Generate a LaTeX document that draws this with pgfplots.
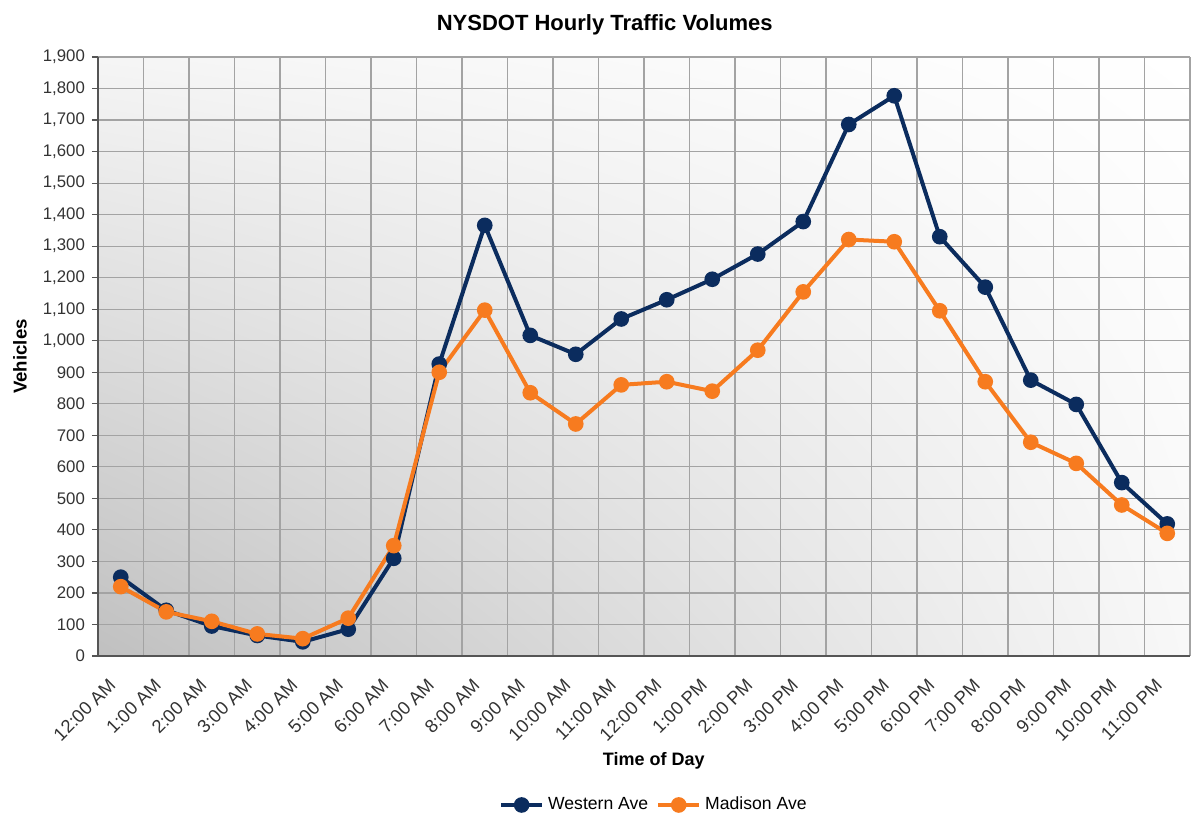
\documentclass[border=0pt]{standalone}
\usepackage{pgfplots}
\pgfplotsset{compat=1.18}
\usetikzlibrary{shadings}
\usepackage{fontspec}
\setmainfont{Liberation Sans}
\definecolor{western}{HTML}{0B2C5E}
\definecolor{madison}{HTML}{F77B1F}
\definecolor{gridc}{HTML}{A3A3A3}
\definecolor{axisc}{HTML}{555555}
\definecolor{bgll}{HTML}{C0C0C0}
\definecolor{bgul}{HTML}{F5F5F5}
\definecolor{bglr}{HTML}{F8F8F8}
\definecolor{bgur}{HTML}{FFFFFF}
\begin{document}
\begin{tikzpicture}
\path[use as bounding box] (0,0) rectangle (597pt,407pt);
\begin{axis}[
  at={(49pt,79pt)}, anchor=south west,
  width=546pt, height=299.5pt, scale only axis,
  xmin=-0.5, xmax=23.5, ymin=0, ymax=1900,
  axis lines=left,
  axis line style={-, axisc, line width=1pt},
  xtick={0,...,23},
  xticklabels={12:00 AM,1:00 AM,2:00 AM,3:00 AM,4:00 AM,5:00 AM,6:00 AM,7:00 AM,8:00 AM,9:00 AM,10:00 AM,11:00 AM,12:00 PM,1:00 PM,2:00 PM,3:00 PM,4:00 PM,5:00 PM,6:00 PM,7:00 PM,8:00 PM,9:00 PM,10:00 PM,11:00 PM},
  minor xtick={-0.5,0.5,...,23.5},
  xtick style={draw=none},
  minor tick length=4pt,
  major tick length=3pt,
  tick align=outside,
  xmajorgrids=false, xminorgrids=true, ymajorgrids=true,
  grid style={gridc, line width=0.6pt},
  minor grid style={gridc, line width=0.6pt},
  minor tick style={axisc, line width=0.6pt},
  ytick style={axisc, line width=0.6pt},
  ytick={0,100,...,1900},
  tick label style={font=\fontsize{8.4}{10}\selectfont, text=black!80},
  xticklabel style={xshift=-6.5pt, yshift=-6pt, rotate=45, anchor=north east, inner sep=1pt, font=\fontsize{9.2}{11}\selectfont},
  /pgf/number format/.cd, 1000 sep={,}, assume math mode=true, /pgfplots/.cd,
  title={NYSDOT Hourly Traffic Volumes},
  every axis title/.style={at={(axis description cs:0.464,1.0534)}, anchor=center, font=\bfseries\fontsize{11}{13}\selectfont},
  xlabel={Time of Day},
  ylabel={Vehicles},
  every axis x label/.style={at={(axis description cs:0.509,-0.1753)}, anchor=center, font=\bfseries\fontsize{9}{11}\selectfont},
  every axis y label/.style={at={(axis description cs:-0.0714,0.5)}, rotate=90, anchor=center, font=\bfseries\fontsize{9.3}{11}\selectfont},
  axis background/.style={shading=bilinear interpolation, lower left=bgll, upper left=bgul, lower right=bglr, upper right=bgur},
  legend style={at={(axis description cs:0.51,-0.2487)}, anchor=center, legend columns=2, draw=none, fill=none, font=\fontsize{8.8}{10}\selectfont, /tikz/every even column/.append style={column sep=2pt}},
  legend image code/.code={\draw[mark repeat=2, mark phase=2] plot coordinates {(0cm,0cm) (0.36cm,0cm) (0.72cm,0cm)};},
]
\addplot[western, line width=2pt, mark=*, mark size=2.9pt, mark options={solid}] coordinates {
(0,250) (1,145) (2,95) (3,65) (4,45) (5,85) (6,310) (7,926) (8,1366) (9,1017) (10,957) (11,1069)
(12,1130) (13,1195) (14,1275) (15,1378) (16,1686) (17,1777) (18,1330) (19,1170) (20,875) (21,798) (22,550) (23,419)};
\addlegendentry{Western Ave}
\addplot[madison, line width=2pt, mark=*, mark size=2.9pt, mark options={solid}] coordinates {
(0,220) (1,140) (2,110) (3,70) (4,55) (5,120) (6,350) (7,900) (8,1097) (9,835) (10,736) (11,860)
(12,870) (13,840) (14,970) (15,1155) (16,1321) (17,1314) (18,1095) (19,870) (20,678) (21,611) (22,479) (23,389)};
\addlegendentry{Madison Ave}
\end{axis}
\end{tikzpicture}
\end{document}
